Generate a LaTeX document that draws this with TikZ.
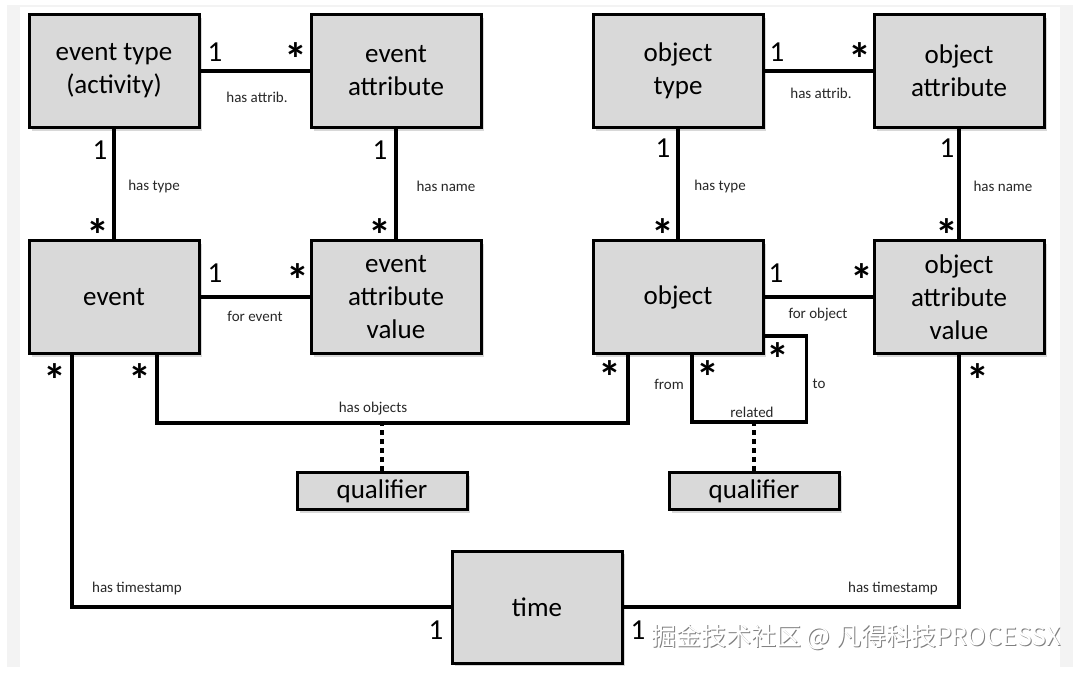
\documentclass[tikz,border=0pt]{standalone}
\usepackage{fontspec}
\setmainfont{Carlito}
\newfontfamily\cjk{Noto Sans CJK SC}
\usepackage{xcolor}
\usepackage{tikz}
\usetikzlibrary{shadows}

\definecolor{boxgray}{RGB}{217,217,217}
\definecolor{framegray}{RGB}{243,243,243}
\definecolor{lblgray}{RGB}{40,40,40}

\tikzset{
  ent/.style={draw, line width=3pt, fill=boxgray, minimum width=170pt,
    minimum height=113pt, align=center, inner sep=2pt,
    font=\fontsize{27}{33}\selectfont,
    drop shadow={opacity=0.3, shadow xshift=3pt, shadow yshift=-3pt}},
  qual/.style={ent, minimum height=37pt},
  link/.style={line width=3.6pt},
  qlink/.style={line width=4pt, dash pattern=on 5pt off 4pt},
  lbl/.style={font=\fontsize{15}{18}\selectfont, text=lblgray, inner sep=0pt},
  mult/.style={font=\fontsize{29}{30}\selectfont, inner sep=0pt},
  many/.style={font=\fontsize{46}{46}\selectfont\bfseries, inner sep=0pt},
  wm/.style={font=\cjk\fontsize{25}{28}\selectfont, inner sep=0pt}
}
\newcommand{\manystar}{\smash{\raisebox{-23pt}{*}}}

\begin{document}
\begin{tikzpicture}[x=1pt, y=-1pt]
    \useasboundingbox (0,0) rectangle (1080,673);
    \fill[white] (0,0) rectangle (1080,673);
    \fill[framegray] (7,5) rectangle (1073,667);
    \fill[white] (20,7) rectangle (1060,667);

    % entities
    \node[ent] (evtype) at (114,71) {event type\\(activity)};
    \node[ent] (evattr) at (396,71) {event\\attribute};
    \node[ent] (event) at (114,297) {event};
    \node[ent] (evval) at (396,297) {event\\attribute\\value};
    \node[ent] (objtype) at (678,71) {object\\type};
    \node[ent] (objattr) at (959,71) {object\\attribute};
    \node[ent] (object) at (678,297) {object};
    \node[ent] (objval) at (959,297) {object\\attribute\\value};
    \node[ent, minimum height=112pt] (time) at (537,607) {time};
    \node[qual] (qualA) at (382,491) {qualifier};
    \node[qual] (qualB) at (754,491) {qualifier};

    % connectors
    \draw[link] (evtype) -- (evattr);
    \draw[link] (evtype) -- (event);
    \draw[link] (evattr) -- (evval);
    \draw[link] (event) -- (evval);
    \draw[link] (objtype) -- (objattr);
    \draw[link] (objtype) -- (object);
    \draw[link] (objattr) -- (objval);
    \draw[link] (object) -- (objval);
    \draw[link] ([xshift=43pt]event.south) -- ++(0,68) coordinate (hasobj)
        -| ([xshift=-50pt]object.south);
    \draw[link] ([yshift=-39pt]object.east) -- ++(42,0) -- ++(0,86) coordinate (rel)
        -| ([xshift=14pt]object.south);
    \draw[link] ([xshift=-42pt]event.south) |- (time.west);
    \draw[link] (objval.south) |- (time.east);
    \draw[qlink] (qualA.north) -- (qualA.north |- hasobj);
    \draw[qlink] (qualB.north) -- (qualB.north |- rel);

    % multiplicities
    \node[mult] (m1) at (215,52) {1};
    \node[many] (m2) at (296,52) {\manystar};
    \node[mult] (m3) at (100,150) {1};
    \node[many] (m4) at (98,228) {\manystar};
    \node[mult] (m5) at (380,150) {1};
    \node[many] (m6) at (380,228) {\manystar};
    \node[mult] (m7) at (215,273) {1};
    \node[many] (m8) at (298,273) {\manystar};
    \node[many] (m9) at (55,373) {\manystar};
    \node[many] (m10) at (140,373) {\manystar};
    \node[mult] (m11) at (777,52) {1};
    \node[many] (m12) at (860,52) {\manystar};
    \node[mult] (m13) at (663,148) {1};
    \node[many] (m14) at (663,228) {\manystar};
    \node[mult] (m15) at (947,148) {1};
    \node[many] (m16) at (947,228) {\manystar};
    \node[mult] (m17) at (776,273) {1};
    \node[many] (m18) at (862,273) {\manystar};
    \node[many] (m19) at (610,370) {\manystar};
    \node[many] (m20) at (708,370) {\manystar};
    \node[many] (m21) at (778,352) {\manystar};
    \node[many] (m22) at (978,373) {\manystar};
    \node[mult] (m23) at (436,630) {1};
    \node[mult] (m24) at (638,630) {1};

    % connector labels
    \node[lbl] (l1) at (257,97) {has attrib.};
    \node[lbl] (l2) at (154,186) {has type};
    \node[lbl] (l3) at (446,186) {has name};
    \node[lbl] (l4) at (255,316) {for event};
    \node[lbl] (l5) at (373,409) {has objects};
    \node[lbl] (l6) at (821,93) {has attrib.};
    \node[lbl] (l7) at (720,186) {has type};
    \node[lbl] (l8) at (1003,186) {has name};
    \node[lbl] (l9) at (818,315) {for object};
    \node[lbl] (l10) at (669,384) {from};
    \node[lbl] (l11) at (819,384) {to};
    \node[lbl] (l12) at (752,412) {related};
    \node[lbl] (l13) at (137,588) {has timestamp};
    \node[lbl] (l14) at (893,588) {has timestamp};

    % watermark
    \node[wm, text=gray] (wmshade) at (857,638) {掘金技术社区 @ 凡得科技PROCESSX};
    \node[wm, text=white] (wmtext) at (856,637) {掘金技术社区 @ 凡得科技PROCESSX};
\end{tikzpicture}
\end{document}
